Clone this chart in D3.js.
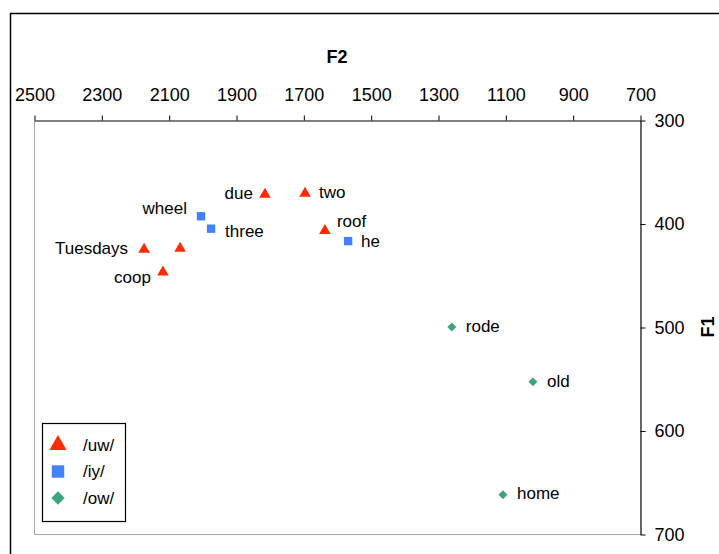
<!DOCTYPE html>
<html>
<head>
<meta charset="utf-8">
<script src="https://cdn.jsdelivr.net/npm/d3@7"></script>
<style>
  html, body { margin: 0; padding: 0; background: #fff; }
  svg { display: block; font-family: "Liberation Sans", Arial, sans-serif; }
</style>
</head>
<body>
<svg id="chart" width="719" height="554"></svg>
<script>
// Vowel formant measurements (Hz)
const words  = ["due", "two", "roof", "he", "wheel", "three", "Tuesdays", "", "coop", "rode", "old", "home"];
const vowels = ["/uw/", "/uw/", "/uw/", "/iy/", "/iy/", "/iy/", "/uw/", "/uw/", "/uw/", "/ow/", "/ow/", "/ow/"];
const f2     = [1814, 1695, 1636, 1567, 2004, 1974, 2173, 2066, 2117, 1259, 1018, 1107];
const f1     = [372, 371, 407, 417, 393, 405, 425, 424, 447, 500, 553, 662];

const vowelSeries = ["/uw/", "/iy/", "/ow/"];
const f2Ticks = [2500, 2300, 2100, 1900, 1700, 1500, 1300, 1100, 900, 700];
const f1Ticks = [300, 400, 500, 600, 700];

// Where each word label sits relative to its marker
const labelPlacement = {
  "due":      { dx: -12, dy: -1, anchor: "end" },
  "two":      { dx: 14,  dy: -1, anchor: "start" },
  "roof":     { dx: 12,  dy: -10, anchor: "start" },
  "he":       { dx: 13,  dy: 0,  anchor: "start" },
  "wheel":    { dx: -14, dy: -8, anchor: "end" },
  "three":    { dx: 14,  dy: 2,  anchor: "start" },
  "Tuesdays": { dx: -16, dy: -1, anchor: "end" },
  "coop":     { dx: -12, dy: 5,  anchor: "end" },
  "rode":     { dx: 14,  dy: -1, anchor: "start" },
  "old":      { dx: 14,  dy: -1, anchor: "start" },
  "home":     { dx: 14,  dy: -2, anchor: "start" }
};

const colors  = { "/uw/": "#ff2a00", "/iy/": "#4282ff", "/ow/": "#3aa57a" };
const symbols = { "/uw/": d3.symbolTriangle, "/iy/": d3.symbolSquare, "/ow/": d3.symbolSquare };
const sizes   = { "/uw/": 58, "/iy/": 70, "/ow/": 40 };
const rotation = { "/uw/": 0, "/iy/": 0, "/ow/": 45 };

const points = words.map((w, i) => ({ word: w, vowel: vowels[i], f2: f2[i], f1: f1[i] }));

const svg = d3.select("#chart");

// Outer chart frame
svg.append("path")
  .attr("d", "M10.5,560 V13.5 H725")
  .attr("fill", "none").attr("stroke", "#000").attr("stroke-width", 1.5);

const x = d3.scaleLinear().domain([2500, 700]).range([34, 640]);
const y = d3.scaleLinear().domain([300, 700]).range([120, 534]);

// Plot area border (left and bottom)
svg.append("path")
  .attr("d", `M${x(2500) + 0.5},${y(300)} V${y(700) + 0.5} H${x(700)}`)
  .attr("fill", "none").attr("stroke", "#a8a8a8").attr("stroke-width", 1);

// Top F2 axis
const topAxis = svg.append("g")
  .attr("transform", `translate(0.5,${y(300) + 0.5})`)
  .call(d3.axisTop(x).tickValues(f2Ticks).tickSize(5).tickSizeOuter(0).tickPadding(15).tickFormat(d3.format("d")));

// Right F1 axis
const rightAxis = svg.append("g")
  .attr("transform", `translate(${x(700) + 0.5},0.5)`)
  .call(d3.axisRight(y).tickValues(f1Ticks).tickSize(5).tickSizeOuter(0).tickPadding(9).tickFormat(d3.format("d")));

[topAxis, rightAxis].forEach(g => {
  g.select(".domain").attr("stroke", "#000").attr("stroke-width", 1.2);
  g.selectAll(".tick line").attr("stroke", "#000");
  g.selectAll(".tick text").attr("font-size", 18).attr("fill", "#000")
    .attr("font-family", "'Liberation Sans', Arial, sans-serif");
});

// Axis titles
svg.append("text")
  .attr("x", 337).attr("y", 63)
  .attr("text-anchor", "middle")
  .attr("font-size", 18).attr("font-weight", "bold")
  .text("F2");

svg.append("text")
  .attr("transform", "translate(714,327) rotate(-90)")
  .attr("text-anchor", "middle")
  .attr("font-size", 18).attr("font-weight", "bold")
  .text("F1");

// Markers
svg.append("g").selectAll("path")
  .data(points)
  .join("path")
  .attr("transform", d => `translate(${x(d.f2)},${y(d.f1)}) rotate(${rotation[d.vowel]})`)
  .attr("d", d => d3.symbol(symbols[d.vowel], sizes[d.vowel])())
  .attr("fill", d => colors[d.vowel]);

// Word labels
svg.append("g").selectAll("text")
  .data(points.filter(d => d.word))
  .join("text")
  .attr("x", d => x(d.f2) + labelPlacement[d.word].dx)
  .attr("y", d => y(d.f1) + labelPlacement[d.word].dy)
  .attr("dy", "0.35em")
  .attr("text-anchor", d => labelPlacement[d.word].anchor)
  .attr("font-size", 17)
  .attr("fill", "#000")
  .text(d => d.word);

// Legend
const legend = svg.append("g");
legend.append("rect")
  .attr("x", 42.5).attr("y", 423.5).attr("width", 83).attr("height", 98)
  .attr("fill", "#fff").attr("stroke", "#000").attr("stroke-width", 1.2);

const legendItems = legend.selectAll("g.item")
  .data(vowelSeries)
  .join("g")
  .attr("class", "item")
  .attr("transform", (d, i) => `translate(58,${445 + i * 26.5})`);

legendItems.append("path")
  .attr("transform", d => `rotate(${rotation[d]})`)
  .attr("d", d => d3.symbol(symbols[d], sizes[d] * 2.2)())
  .attr("fill", d => colors[d]);

legendItems.append("text")
  .attr("x", 25).attr("dy", "0.35em")
  .attr("font-size", 17)
  .text(d => d);
</script>
</body>
</html>
